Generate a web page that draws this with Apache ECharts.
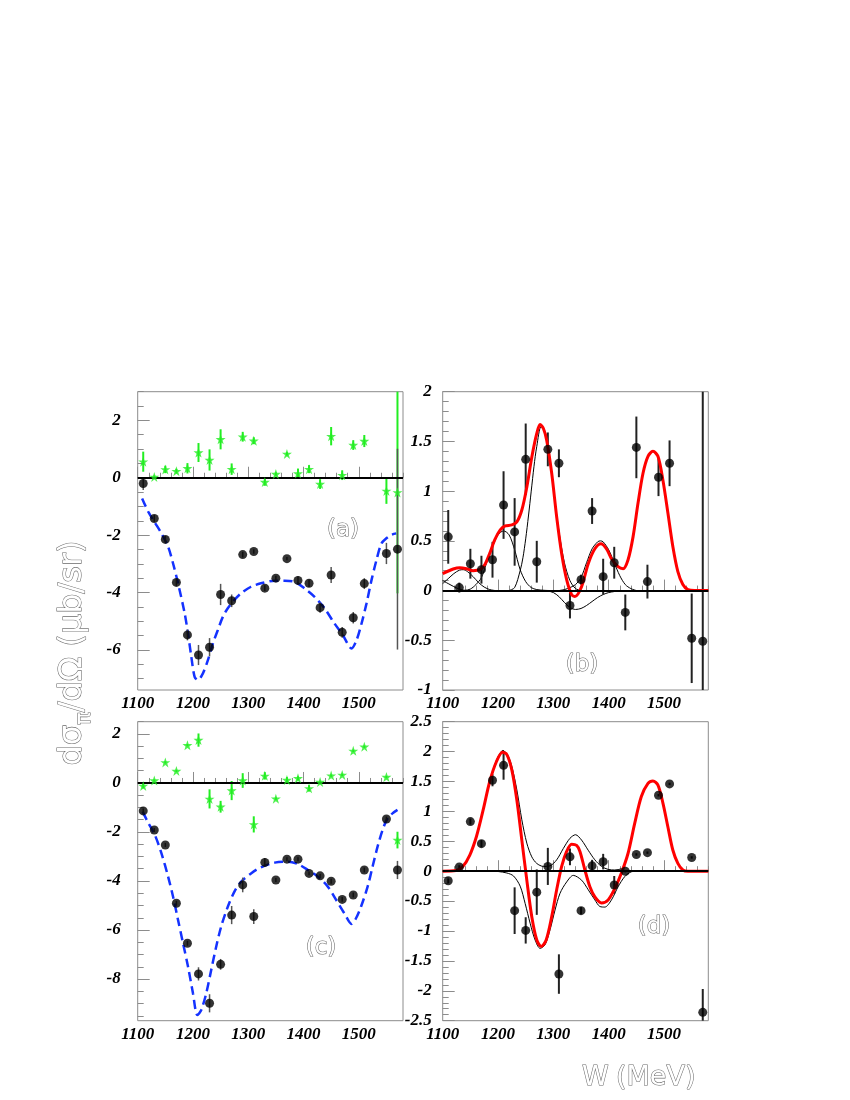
<!DOCTYPE html>
<html><head><meta charset="utf-8">
<script src="https://cdn.jsdelivr.net/npm/echarts@6/dist/echarts.min.js"></script>
<style>html,body{margin:0;padding:0;background:#fff}#c{width:850px;height:1100px}</style>
</head><body><div id="c"></div>
<script>
// ---------- data ----------
const W = [1110,1130,1150,1170,1190,1210,1230,1250,1270,1290,1310,1330,1350,1370,1390,1410,1430,1450,1470,1490,1510,1550,1570];

// panel (a)
const aDots    = [-0.2,-1.42,-2.15,-3.65,-5.48,-6.18,-5.91,-4.07,-4.29,-2.68,-2.57,-3.85,-3.5,-2.82,-3.58,-3.68,-4.53,-3.39,-5.39,-4.88,-3.69,-2.64,-2.49];
const aDotsErr = [0.23,0.12,0.12,0.12,0.19,0.35,0.32,0.37,0.22,0.1,0.08,0.1,0.08,0.06,0.15,0.13,0.18,0.28,0.19,0.2,0.19,0.37,3.5];
const aStars   = [0.56,0.03,0.29,0.23,0.33,0.88,0.62,1.34,0.30,1.43,1.29,-0.15,0.13,0.83,0.15,0.30,-0.22,1.45,0.09,1.14,1.28,-0.46,-0.51];
const aStarsErr= [0.35,0.05,0.13,0.08,0.18,0.33,0.37,0.35,0.2,0.17,0.12,0.13,0.06,0.06,0.17,0.14,0.17,0.32,0.17,0.17,0.21,0.45,3.52];
const aFitW = [1108,1119,1131,1143,1155,1164,1173,1185,1191,1197,1203,1209,1218,1227,1236,1245,1254,1263,1275,1287,1305,1323,1348,1366,1384,1402,1420,1438,1456,1471,1487,1496,1505,1514,1523,1532,1541,1550,1559,1568];
const aFitY = [-0.72,-1.18,-1.56,-1.94,-2.4,-2.99,-3.68,-4.73,-5.43,-6.24,-6.94,-7.05,-6.82,-6.36,-5.78,-5.31,-4.85,-4.55,-4.26,-4.03,-3.8,-3.68,-3.59,-3.59,-3.63,-3.86,-4.15,-4.55,-5.08,-5.48,-5.95,-5.66,-5.08,-4.38,-3.57,-2.87,-2.29,-2.11,-1.99,-1.94];

// panel (b)
const bDots    = [0.54,0.03,0.27,0.21,0.31,0.86,0.59,1.32,0.29,1.42,1.28,-0.15,0.11,0.80,0.14,0.28,-0.22,1.44,0.09,1.14,1.28,-0.48,-0.51];
const bDotsErr = [0.27,0.05,0.15,0.14,0.18,0.34,0.34,0.36,0.21,0.17,0.14,0.13,0.05,0.13,0.18,0.16,0.18,0.31,0.17,0.19,0.23,0.45,3.5];
const bRedW = [1100,1119,1131,1143,1155,1167,1176,1185,1194,1204,1213,1225,1234,1243,1252,1261,1270,1276,1282,1288,1297,1306,1315,1324,1333,1339,1351,1363,1375,1386,1396,1405,1417,1426,1435,1444,1453,1462,1471,1480,1489,1498,1507,1516,1525,1534,1543,1555,1580];
const bRedY = [0.17,0.217,0.23,0.22,0.2,0.21,0.26,0.375,0.51,0.61,0.65,0.66,0.69,0.81,1.04,1.34,1.58,1.67,1.63,1.51,1.18,0.74,0.37,0.11,-0.04,-0.06,0.04,0.27,0.42,0.47,0.42,0.32,0.24,0.22,0.31,0.54,0.88,1.18,1.35,1.4,1.35,1.11,0.78,0.44,0.19,0.06,0.01,0,0];
const bK1W = [1100,1110,1120,1130,1137,1145,1155,1165,1175,1185,1195];
const bK1Y = [0.07,0.12,0.17,0.205,0.21,0.19,0.14,0.08,0.035,0.01,0];
const bK2W = [1100,1110,1120,1130,1140,1150,1160,1170,1180,1190,1200,1210,1220,1230,1240,1250,1260,1270,1285,1300];
const bK2Y = [0.10,0.07,0.04,0.015,0.003,0.015,0.06,0.13,0.29,0.44,0.56,0.6,0.56,0.41,0.21,0.09,0.03,0.01,0.002,0];
const bK3W = [1220,1230,1240,1245,1250,1255,1260,1265,1270,1278,1285,1292,1300,1310,1320,1330,1340,1350];
const bK3Y = [0,0.03,0.2,0.33,0.52,0.75,1.0,1.25,1.45,1.65,1.6,1.4,1.02,0.6,0.28,0.1,0.02,0];
const bK4W = [1280,1290,1300,1310,1320,1330,1340,1350,1360,1370,1380,1390,1400,1410,1420];
const bK4Y = [0,-0.005,-0.02,-0.06,-0.12,-0.17,-0.19,-0.18,-0.15,-0.11,-0.07,-0.04,-0.02,-0.01,0];
const bK5W = [1310,1320,1330,1340,1350,1360,1370,1380,1385,1390,1400,1410,1420,1430,1440,1450];
const bK5Y = [0,0.01,0.03,0.06,0.13,0.28,0.42,0.49,0.5,0.49,0.41,0.28,0.15,0.06,0.02,0];

// panel (c)
const cDots    = [-1.14,-1.92,-2.53,-4.91,-6.54,-7.79,-8.99,-7.4,-5.39,-4.16,-5.45,-3.24,-3.96,-3.11,-3.11,-3.69,-3.79,-4.01,-4.75,-4.57,-3.55,-1.47,-3.55];
const cDotsErr = [0.1,0.08,0.08,0.1,0.1,0.27,0.37,0.22,0.37,0.3,0.3,0.18,0.08,0.08,0.08,0.08,0.08,0.1,0.1,0.1,0.1,0.1,0.37];
const cStars   = [-0.12,0.1,0.84,0.49,1.54,1.75,-0.65,-0.97,-0.31,0.1,-1.69,0.29,-0.64,0.12,0.19,-0.22,0.04,0.3,0.33,1.31,1.48,0.24,-2.33];
const cStarsErr= [0.1,0.05,0.05,0.05,0.05,0.27,0.39,0.24,0.39,0.3,0.33,0.15,0.05,0.12,0.08,0.13,0.05,0.05,0.05,0.05,0.05,0.05,0.34];
const cFitW = [1109,1118,1131,1143,1155,1164,1173,1182,1191,1200,1208,1215,1224,1233,1242,1251,1263,1275,1287,1305,1323,1348,1372,1390,1408,1426,1444,1459,1474,1487,1495,1504,1516,1525,1534,1543,1552,1561,1570];
const cFitY = [-1.17,-1.58,-2.12,-2.87,-3.82,-4.64,-5.59,-6.54,-7.49,-8.58,-9.47,-9.26,-8.58,-7.63,-6.68,-5.86,-5.05,-4.43,-4.03,-3.69,-3.44,-3.25,-3.21,-3.31,-3.55,-3.82,-4.23,-4.77,-5.32,-5.75,-5.52,-5.05,-4.23,-3.41,-2.6,-1.92,-1.44,-1.24,-1.1];

// panel (d)
const dDots    = [-0.16,0.07,0.83,0.46,1.52,1.77,-0.66,-0.99,-0.35,0.08,-1.72,0.24,-0.66,0.09,0.16,-0.23,0.0,0.28,0.31,1.27,1.46,0.23,-2.36];
const dDotsErr = [0.04,0.03,0.05,0.06,0.1,0.24,0.39,0.22,0.38,0.31,0.33,0.14,0.06,0.1,0.13,0.15,0.02,0.02,0.02,0.02,0.02,0.02,0.39];
const dRedW = [1100,1124,1136,1149,1161,1173,1185,1197,1208,1216,1225,1234,1243,1252,1261,1270,1278,1287,1297,1306,1315,1324,1333,1342,1348,1357,1366,1375,1387,1399,1411,1423,1435,1447,1459,1471,1480,1489,1498,1507,1516,1525,1534,1543,1580];
const dRedY = [0,0.01,0.075,0.27,0.58,1.02,1.5,1.83,1.99,1.95,1.69,1.19,0.52,-0.15,-0.76,-1.15,-1.26,-1.15,-0.76,-0.31,0.08,0.33,0.45,0.43,0.33,0.02,-0.26,-0.43,-0.53,-0.48,-0.29,-0.03,0.3,0.8,1.25,1.47,1.51,1.44,1.14,0.74,0.35,0.13,0.02,0,0];
const dUpW = [1100,1120,1136,1149,1161,1173,1185,1197,1209,1218,1225,1234,1243,1252,1261,1270,1282,1294,1306,1318,1330,1340,1351,1363,1375,1387,1399,1411,1423,1430];
const dUpY = [0,0.005,0.08,0.28,0.59,1.03,1.51,1.85,2.02,1.93,1.75,1.36,0.86,0.47,0.24,0.13,0.08,0.09,0.19,0.38,0.55,0.61,0.52,0.35,0.19,0.08,0.03,0.02,0.04,0.07];
const dLoW = [1190,1200,1216,1228,1240,1249,1258,1267,1276,1285,1294,1303,1312,1324,1336,1351,1363,1375,1384,1393,1405,1417,1429,1441,1453];
const dLoY = [0,-0.005,-0.03,-0.08,-0.25,-0.54,-0.87,-1.15,-1.29,-1.23,-0.98,-0.65,-0.37,-0.18,-0.07,-0.15,-0.31,-0.48,-0.59,-0.6,-0.48,-0.26,-0.09,-0.01,0];

// ---------- ticks / labels ----------
const X_MAJOR = [1100,1200,1300,1400,1500];
const X_MINOR = []; for (let v = 1100; v <= 1580; v += 20) X_MINOR.push(v);
const A_MAJOR = [-6,-4,-2,0,2];
const B_MAJOR = [-1,-0.5,0,0.5,1,1.5,2];
const C_MAJOR = [-8,-6,-4,-2,0,2];
const D_MAJOR = [-2.5,-2,-1.5,-1,-0.5,0,0.5,1,1.5,2,2.5];
function steps(a, b, s){ const r=[]; for(let k=0; a+k*s <= b+1e-9; k++) r.push(Math.round((a+k*s)*100)/100); return r; }
const A_MINOR = steps(-7, 3, 0.5);
const B_MINOR = steps(-1, 2, 0.1);
const C_MINOR = steps(-9.5, 2.5, 0.5);
const D_MINOR = steps(-2.5, 2.5, 0.1);

// ---------- layout ----------
const GRIDS = [
  {left:137.7, top:391.7, width:265.3, height:298.3},
  {left:442.7, top:391.7, width:265.6, height:298.3},
  {left:137.7, top:721.7, width:265.3, height:299},
  {left:442.7, top:721.7, width:265.6, height:299}
];
const YR = [[-7.4,3],[-1,2],[-9.7,2.5],[-2.5,2.5]];
const YMAJ = [A_MAJOR,B_MAJOR,C_MAJOR,D_MAJOR];
const YMIN = [A_MINOR,B_MINOR,C_MINOR,D_MINOR];
const YLM = [17,11,17,11];
const FRAME = '#8c8c8c';
const LBL = {fontFamily:'Liberation Serif', fontWeight:'bold', fontStyle:'italic', fontSize:17, color:'#000',
  formatter:function(v){ return String(v); }};

const xAxis = [], yAxis = [];
GRIDS.forEach((g,i)=>{
  xAxis.push({type:'value', gridIndex:i, position:'bottom', min:1100, max:1580,
    axisLine:{show:false}, splitLine:{show:false},
    axisTick:{inside:true, length:11, customValues:X_MAJOR, lineStyle:{color:FRAME}},
    axisLabel:Object.assign({customValues:X_MAJOR, margin:5}, LBL)});
  yAxis.push({type:'value', gridIndex:i, position:'left', min:YR[i][0], max:YR[i][1],
    axisLine:{show:false}, splitLine:{show:false},
    axisTick:{inside:true, length:12, customValues:YMAJ[i], lineStyle:{color:FRAME}},
    axisLabel:Object.assign({customValues:YMAJ[i], margin:YLM[i]}, LBL)});
});
GRIDS.forEach((g,i)=>{
  xAxis.push({type:'value', gridIndex:i, position:'bottom', min:1100, max:1580,
    axisLine:{show:false}, splitLine:{show:false}, axisLabel:{show:false},
    axisTick:{inside:true, length:5, customValues:X_MINOR, lineStyle:{color:FRAME}}});
  yAxis.push({type:'value', gridIndex:i, position:'left', min:YR[i][0], max:YR[i][1],
    axisLine:{show:false}, splitLine:{show:false}, axisLabel:{show:false},
    axisTick:{inside:true, length:6, customValues:YMIN[i], lineStyle:{color:FRAME}}});
});

// ---------- series helpers ----------
const STAR = 'path://M50,0 L61.8,35.1 L98.9,35.1 L69,57.3 L80.3,92.7 L50,70.9 L19.7,92.7 L31,57.3 L1.1,35.1 L38.2,35.1 Z';
function pairs(xs, ys){ return xs.map((x,k)=>[x, ys[k]]); }
function curve(i, xs, ys, color, width, dash, z, zero, zw){
  const s = {type:'line', xAxisIndex:i, yAxisIndex:i, data:pairs(xs,ys), symbol:'none', smooth:0.3,
    lineStyle:{color:color, width:width, type:dash||'solid', cap:'butt'}, z:z||3, silent:true};
  if (zero) s.markLine = {silent:true, symbol:'none', label:{show:false}, animation:false,
    data:[{yAxis:0}], lineStyle:{color:'#000', width:zw, type:'solid'}};
  return s;
}
function errs(i, ys, es, color, width){
  return {type:'custom', xAxisIndex:i, yAxisIndex:i, z:4, silent:true,
    data: W.map((x,k)=>[x, ys[k], es[k]]), encode:{x:0, y:1},
    renderItem:function(params, api){
      const x=api.value(0), y=api.value(1), e=api.value(2);
      const p=api.coord([x,y+e]), q=api.coord([x,y-e]);
      const cs=params.coordSys, t=cs.y, b=cs.y+cs.height;
      return {type:'line', shape:{x1:p[0], y1:Math.max(t,Math.min(b,p[1])), x2:q[0], y2:Math.max(t,Math.min(b,q[1]))},
        style:{stroke:color, lineWidth:width}};
    }};
}
function pts(i, ys, symbol, size, color){
  return {type:'scatter', xAxisIndex:i, yAxisIndex:i, data:pairs(W,ys), symbol:symbol, symbolSize:size,
    itemStyle:{color:color}, z:5, silent:true};
}

const BLUE = '#1432ff', RED = '#ff0000', GREEN = '#22ee22';
const series = [
  // (a)
  curve(0, aFitW, aFitY, BLUE, 2.5, [9,5], 3, true, 2),
  errs(0, aStars, aStarsErr, GREEN, 2),
  pts(0, aStars, STAR, 10, GREEN),
  errs(0, aDots, aDotsErr, '#555', 1.5),
  pts(0, aDots, 'circle', 9, '#000'),
  // (b)
  curve(1, bK1W, bK1Y, '#000', 1, null, 3, true, 2),
  curve(1, bK2W, bK2Y, '#000', 1),
  curve(1, bK3W, bK3Y, '#000', 1),
  curve(1, bK4W, bK4Y, '#000', 1),
  curve(1, bK5W, bK5Y, '#000', 1),
  curve(1, bRedW, bRedY, RED, 3, null, 4),
  errs(1, bDots, bDotsErr, '#222', 2),
  pts(1, bDots, 'circle', 9, '#000'),
  // (c)
  curve(2, cFitW, cFitY, BLUE, 2.5, [9,5], 3, true, 2),
  errs(2, cStars, cStarsErr, GREEN, 2),
  pts(2, cStars, STAR, 10, GREEN),
  errs(2, cDots, cDotsErr, '#555', 1.5),
  pts(2, cDots, 'circle', 9, '#000'),
  // (d)
  curve(3, dUpW, dUpY, '#000', 1, null, 3, true, 2),
  curve(3, dLoW, dLoY, '#000', 1),
  curve(3, dRedW, dRedY, RED, 3, null, 4),
  errs(3, dDots, dDotsErr, '#222', 2),
  pts(3, dDots, 'circle', 9, '#000')
];

// ---------- text (titles, panel tags) ----------
const TF = 'DejaVu Sans';
const hollow = (size)=>({fill:'#ffffff', stroke:'#6a6a6a', lineWidth:1.1, fontSize:size, fontFamily:TF, fontWeight:'normal'});
const mctx = document.createElement('canvas').getContext('2d');
function tw(t, size){ mctx.font = size + 'px "' + TF + '"'; return mctx.measureText(t).width; }
const yT1 = 'dσ', yT2 = 'π', yT3 = '/dΩ (μb/sr)';
const w1 = tw(yT1,32), w2 = tw(yT2,21), w3 = tw(yT3,32);
const x0 = -(w1+w2+w3)/2;
function txt(t, x, y, size, align, valign){
  return {type:'text', x:x, y:y, style:Object.assign({text:t, align:align||'left', verticalAlign:valign||'bottom'}, hollow(size)), silent:true};
}
const graphic = [
  {type:'group', x:89, y:653, rotation:Math.PI/2, silent:true, children:[
    txt(yT1, x0, 0, 32),
    txt(yT2, x0+w1, 6, 21),
    txt(yT3, x0+w1+w2, 0, 32)
  ]},
  txt('W', 582, 1078, 27, 'left', 'middle'),
  txt('(MeV)', 616, 1078, 27, 'left', 'middle'),
  txt('(a)', 343, 530, 23, 'center', 'middle'),
  txt('(b)', 582, 665, 23, 'center', 'middle'),
  txt('(c)', 321, 948, 23, 'center', 'middle'),
  txt('(d)', 654, 927, 23, 'center', 'middle')
];

const chart = echarts.init(document.getElementById('c'), null, {renderer:'canvas'});
chart.setOption({
  animation:false,
  backgroundColor:'#fff',
  grid: GRIDS.map(g=>Object.assign({show:true, borderColor:FRAME, borderWidth:1, backgroundColor:'transparent'}, g)),
  xAxis: xAxis,
  yAxis: yAxis,
  series: series,
  graphic: graphic
});
</script>
</body></html>
